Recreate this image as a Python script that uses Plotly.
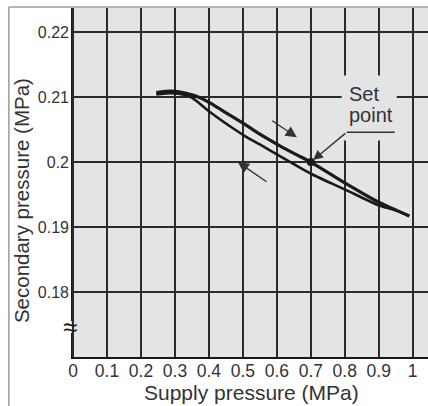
import plotly.graph_objects as go

# Supply pressure (MPa) vs secondary pressure (MPa): hysteresis loop
rising_x = [0.245, 0.29, 0.33, 0.374, 0.403, 0.462, 0.506, 0.55, 0.609, 0.659, 0.70, 0.80, 0.897, 0.99]
rising_y = [0.2107, 0.2109, 0.2106, 0.2099, 0.2091, 0.2072, 0.2058, 0.2043, 0.2025, 0.2011, 0.2000, 0.1968, 0.1939, 0.1917]

falling_x = [0.245, 0.29, 0.33, 0.353, 0.403, 0.462, 0.506, 0.55, 0.609, 0.659, 0.70, 0.80, 0.897, 0.947, 0.99]
falling_y = [0.2104, 0.2106, 0.2103, 0.2098, 0.2077, 0.2055, 0.2040, 0.2027, 0.2009, 0.1994, 0.1982, 0.1958, 0.1934, 0.1926, 0.1917]

set_point = (0.70, 0.200)

x_ticks = [0, 0.1, 0.2, 0.3, 0.4, 0.5, 0.6, 0.7, 0.8, 0.9, 1.0]
x_tick_text = ["0", "0.1", "0.2", "0.3", "0.4", "0.5", "0.6", "0.7", "0.8", "0.9", "1"]
y_ticks = [0.18, 0.19, 0.20, 0.21, 0.22]
y_tick_text = ["0.18", "0.19", "0.2", "0.21", "0.22"]

FONT = "Liberation Sans, Arial, Helvetica, sans-serif"
INK = "#1a1a1a"
TEXT = "#333333"
GRID = "#2b2b2b"
BG = "#e4e4e4"

X_RANGE = [-0.006, 1.045]
Y_RANGE = [0.17, 0.2237]

fig = go.Figure()

fig.add_trace(go.Scatter(x=falling_x, y=falling_y, mode="lines",
                         line=dict(color=INK, width=2.6, shape="spline", smoothing=0.7),
                         hoverinfo="skip", showlegend=False))
fig.add_trace(go.Scatter(x=rising_x, y=rising_y, mode="lines",
                         line=dict(color=INK, width=3.2, shape="spline", smoothing=0.7),
                         hoverinfo="skip", showlegend=False))
fig.add_trace(go.Scatter(x=[set_point[0]], y=[set_point[1]], mode="markers",
                         marker=dict(color=INK, size=8),
                         hoverinfo="skip", showlegend=False))

shapes = []
# gap in the grid behind the "Set point" label
shapes.append(dict(type="rect", xref="x", yref="y", x0=0.791, x1=0.953, y0=0.2033, y1=0.2133,
                   fillcolor=BG, line=dict(width=0), layer="above"))
# label underline
shapes.append(dict(type="line", xref="x", yref="y", x0=0.806, x1=0.947, y0=0.2046, y1=0.2046,
                   line=dict(color=TEXT, width=1.5), layer="above"))
# y axis with a break near the bottom
shapes.append(dict(type="line", xref="x", yref="y", x0=X_RANGE[0], x1=X_RANGE[0], y0=0.1755, y1=Y_RANGE[1],
                   line=dict(color=INK, width=2), layer="above"))
shapes.append(dict(type="line", xref="x", yref="y", x0=X_RANGE[0], x1=X_RANGE[0], y0=Y_RANGE[0], y1=0.1737,
                   line=dict(color=INK, width=2), layer="above"))
# outer frame
shapes.append(dict(type="line", xref="paper", yref="paper", x0=-0.174, x1=1.0, y0=1.003, y1=1.003,
                   line=dict(color="#9a9a9a", width=1.5)))
shapes.append(dict(type="line", xref="paper", yref="paper", x0=-0.174, x1=-0.174, y0=-0.15, y1=1.003,
                   line=dict(color="#9a9a9a", width=1.5)))

annotations = []
annotations.append(dict(text="≈", x=-0.004, y=0.1746, xref="paper", yref="y", showarrow=False,
                        font=dict(family=FONT, size=26, color=INK), xanchor="center", yanchor="middle"))
annotations.append(dict(text="Set", x=0.806, y=0.2105, xref="x", yref="y", showarrow=False,
                        font=dict(family=FONT, size=20, color=TEXT), xanchor="left", yanchor="middle"))
annotations.append(dict(text="point", x=0.806, y=0.2073, xref="x", yref="y", showarrow=False,
                        font=dict(family=FONT, size=20, color=TEXT), xanchor="left", yanchor="middle"))
# leader to the set point
annotations.append(dict(text="", x=set_point[0], y=set_point[1], ax=0.806, ay=0.2046,
                        xref="x", yref="y", axref="x", ayref="y", showarrow=True,
                        arrowhead=2, arrowsize=1.4, arrowwidth=1.4, arrowcolor=TEXT, standoff=3))
# direction arrows
annotations.append(dict(text="", x=0.659, y=0.2038, ax=0.582, ay=0.2065,
                        xref="x", yref="y", axref="x", ayref="y", showarrow=True,
                        arrowhead=2, arrowsize=1.6, arrowwidth=1.4, arrowcolor=TEXT))
annotations.append(dict(text="", x=0.485, y=0.2000, ax=0.574, ay=0.1968,
                        xref="x", yref="y", axref="x", ayref="y", showarrow=True,
                        arrowhead=2, arrowsize=1.6, arrowwidth=1.4, arrowcolor=TEXT))
# axis titles
annotations.append(dict(text="Secondary pressure (MPa)", x=-0.137, y=0.447, xref="paper", yref="paper",
                        showarrow=False, textangle=-90,
                        font=dict(family=FONT, size=20.5, color=TEXT), xanchor="center", yanchor="middle"))
annotations.append(dict(text="Supply pressure (MPa)", x=0.506, y=-0.101, xref="paper", yref="paper",
                        showarrow=False,
                        font=dict(family=FONT, size=21, color=TEXT), xanchor="center", yanchor="middle"))

fig.update_layout(
    width=428, height=406,
    margin=dict(l=71, r=0, t=8, b=49),
    paper_bgcolor="white",
    plot_bgcolor=BG,
    shapes=shapes,
    annotations=annotations,
    xaxis=dict(range=X_RANGE, tickvals=x_ticks, ticktext=x_tick_text,
               showgrid=True, gridcolor=GRID, gridwidth=2,
               zeroline=False, showline=True, linecolor=INK, linewidth=2,
               ticks="", ticklabelstandoff=-3,
               tickfont=dict(family=FONT, size=17.5, color=TEXT), fixedrange=True),
    yaxis=dict(range=Y_RANGE, tickvals=y_ticks, ticktext=y_tick_text,
               showgrid=True, gridcolor=GRID, gridwidth=2,
               zeroline=False, showline=False,
               ticks="", ticklabelstandoff=1,
               tickfont=dict(family=FONT, size=16, color=TEXT), fixedrange=True),
)

fig.write_html("out.html")
